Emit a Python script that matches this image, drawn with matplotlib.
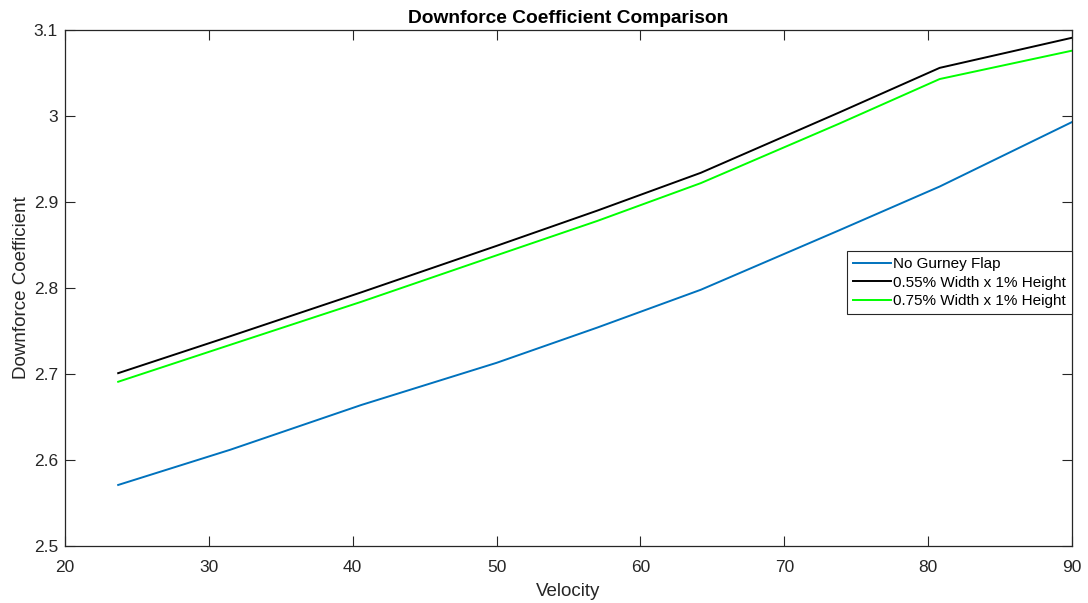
import matplotlib
matplotlib.use("Agg")
import matplotlib.pyplot as plt

plt.rcParams['font.family'] = ['Liberation Sans', 'DejaVu Sans']

velocity = [23.7, 31.5, 40.6, 50.0, 57.0, 64.2, 73.8, 80.8, 90.0]
no_flap = [2.571, 2.612, 2.664, 2.713, 2.754, 2.798, 2.867, 2.918, 2.993]
flap_055 = [2.701, 2.744, 2.795, 2.849, 2.890, 2.934, 3.004, 3.056, 3.091]
flap_075 = [2.691, 2.734, 2.784, 2.838, 2.878, 2.922, 2.991, 3.043, 3.076]

labels = ['No Gurney Flap', '0.55% Width x 1% Height', '0.75% Width x 1% Height']
colors = ['#0072BD', '#000000', '#00FF00']

fig = plt.figure(figsize=(10.88, 6.03), dpi=100)
ax = fig.add_axes([0.0597, 0.0945, 0.9256, 0.8557])

for y, lab, c in zip([no_flap, flap_055, flap_075], labels, colors):
    ax.plot(velocity, y, color=c, linewidth=1.4, label=lab)

ax.set_xlim(20, 90)
ax.set_ylim(2.5, 3.1)
ax.set_xticks(range(20, 91, 10))
ax.set_yticks([2.5, 2.6, 2.7, 2.8, 2.9, 3.0, 3.1])
ax.set_yticklabels(['2.5', '2.6', '2.7', '2.8', '2.9', '3', '3.1'])

dark = '#262626'
for s in ax.spines.values():
    s.set_color(dark)
    s.set_linewidth(0.9)
ax.tick_params(direction='in', length=7, width=0.8, top=True, right=True,
               colors=dark, labelsize=12.5)
ax.tick_params(axis='x', pad=10)
ax.tick_params(axis='y', pad=5)

ax.set_xlabel('Velocity', fontsize=13.5, color=dark, labelpad=6)
ax.set_ylabel('Downforce Coefficient', fontsize=13.5, color=dark, labelpad=3)
ax.set_title('Downforce Coefficient Comparison', fontsize=13.8, fontweight='bold', pad=5)

leg = ax.legend(loc='upper right', bbox_to_anchor=(0.9995, 0.572), fontsize=11,
                fancybox=False, framealpha=1, edgecolor=dark, borderpad=0.4,
                handlelength=2.5, handletextpad=0.1, labelspacing=0.3,
                borderaxespad=0)
leg.get_frame().set_linewidth(0.8)

fig.savefig('out.png', dpi=100)
